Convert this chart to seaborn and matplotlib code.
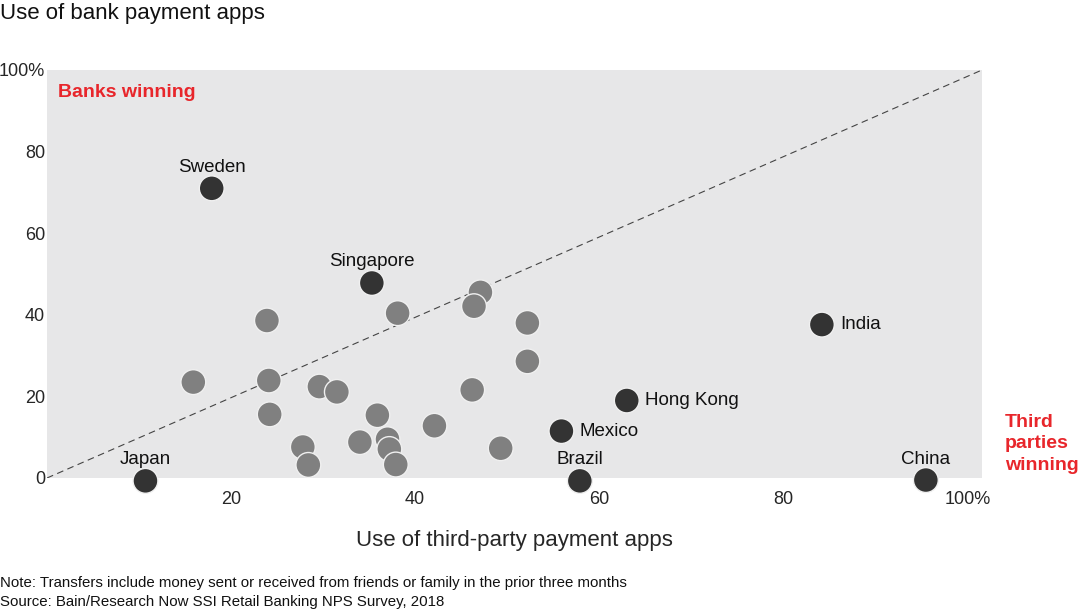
import numpy as np
import pandas as pd
import matplotlib
matplotlib.use("Agg")
import matplotlib.pyplot as plt
import seaborn as sns

# Labelled countries
named_countries = ["Sweden", "Singapore", "India", "Hong Kong", "Mexico", "Brazil", "China", "Japan"]
named_third_party = [17.9, 35.3, 84.2, 63.0, 55.9, 57.9, 95.5, 10.7]
named_bank = [71.0, 47.8, 37.6, 19.0, 11.5, -0.7, -0.5, -0.7]
label_side = ["top", "top", "right", "right", "right", "top", "top", "top"]

# Other (unlabelled) countries
other_third_party = [15.9, 23.9, 24.1, 24.2, 27.8, 28.4, 29.6, 31.5, 34.0, 35.9, 37.0,
                     37.2, 37.9, 38.1, 42.1, 46.2, 47.1, 46.4, 49.3, 52.2, 52.2]
other_bank = [23.5, 38.6, 23.9, 15.6, 7.6, 3.2, 22.4, 21.1, 8.8, 15.4, 9.5,
              7.1, 3.3, 40.4, 12.8, 21.6, 45.5, 42.1, 7.3, 38.0, 28.6]

x_ticks = [20, 40, 60, 80, 100]
x_tick_labels = ["20", "40", "60", "80", "100%"]
y_ticks = [0, 20, 40, 60, 80, 100]
y_tick_labels = ["0", "20", "40", "60", "80", "100%"]

df = pd.concat([
    pd.DataFrame({"x": other_third_party, "y": other_bank, "group": "other"}),
    pd.DataFrame({"x": named_third_party, "y": named_bank, "group": "named"}),
], ignore_index=True)

sns.set_style("white")
plt.rcParams["font.family"] = ["Liberation Sans", "DejaVu Sans"]

fig = plt.figure(figsize=(10.8, 6.12), dpi=100)
ax = fig.add_axes([47/1080, 1 - 478/612, (982 - 47)/1080, (478 - 70)/612])
ax.set_facecolor("#e7e7e8")

ax.set_xlim(0, 101.6)
ax.set_ylim(0, 100)

ax.plot([0, 1], [0, 1], transform=ax.transAxes, ls=(0, (6, 4)), color="#444444", lw=0.8, zorder=1)

sns.scatterplot(data=df, x="x", y="y", hue="group",
                palette={"other": "#808080", "named": "#333333"},
                s=320, edgecolor="#f0f0f0", linewidth=1.0, legend=False,
                ax=ax, zorder=3, alpha=1)
for c in ax.collections:
    c.set_clip_on(False)

for name, xv, yv, side in zip(named_countries, named_third_party, named_bank, label_side):
    if side == "top":
        ax.annotate(name, (xv, yv), xytext=(0, 9), textcoords="offset points",
                    ha="center", va="bottom", fontsize=13.5, color="#111111",
                    annotation_clip=False)
    else:
        ax.annotate(name, (xv, yv), xytext=(13, 0), textcoords="offset points",
                    ha="left", va="center", fontsize=13.5, color="#111111",
                    annotation_clip=False)

for s in ax.spines.values():
    s.set_visible(False)

ax.set_xticks(x_ticks)
ax.set_xticklabels(x_tick_labels, fontsize=13)
ax.set_yticks(y_ticks)
ax.set_yticklabels(y_tick_labels, fontsize=13)
ax.tick_params(axis="x", length=0, pad=9)
ax.tick_params(axis="y", length=0, pad=1.5)
ax.set_xlabel("Use of third-party payment apps", fontsize=16, labelpad=16)
ax.set_ylabel("")

red = "#e8262b"
ax.text(0.012, 0.944, "Banks winning", transform=ax.transAxes, color=red,
        fontsize=14, fontweight="bold", ha="left", va="center")
fig.text(1005/1080, 1 - 444/612, "Third\nparties\nwinning", color=red,
         fontsize=14, fontweight="bold", ha="left", va="center", linespacing=1.35)

fig.text(0.0, 1 - 13/612, "Use of bank payment apps", fontsize=16, ha="left", va="center", color="#111111")
fig.text(0.0, 1 - 583/612, "Note: Transfers include money sent or received from friends or family in the prior three months",
         fontsize=10.85, ha="left", va="center", color="#111111")
fig.text(0.0, 1 - 602/612, "Source: Bain/Research Now SSI Retail Banking NPS Survey, 2018",
         fontsize=10.85, ha="left", va="center", color="#111111")

fig.savefig("out.png", dpi=100)
